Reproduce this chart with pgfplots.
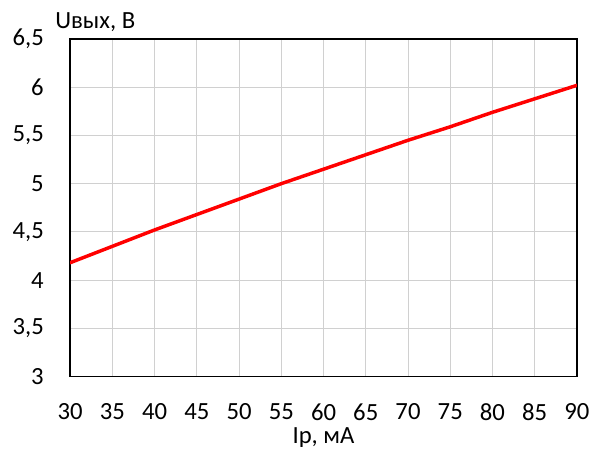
\documentclass[border=0pt]{standalone}
\usepackage{pgfplots}
\pgfplotsset{compat=1.18}
\usepackage{fontspec}
\setmainfont{Carlito}
\definecolor{gridgray}{HTML}{D0D0D0}
\begin{document}
\fontsize{18.5}{22}\selectfont
\begin{tikzpicture}
  \useasboundingbox (-52.5pt,-55.5pt) rectangle (395.75pt,282.25pt);
  \begin{axis}[
    at={(0,0)}, anchor=south west,
    scale only axis,
    width=380pt, height=253pt,
    xmin=30, xmax=90, ymin=3, ymax=6.5,
    xtick={30,35,...,90},
    ytick={3,3.5,...,6.5},
    grid=major,
    major grid style={gridgray, line width=0.75pt},
    axis line style={black, line width=1.1pt},
    major tick length=0pt,
    tick style={draw=none},
    /pgf/number format/assume math mode=true,
    /pgf/number format/use comma,
    ticklabel style={font=\fontsize{18.5}{22}\selectfont, inner sep=0pt},
    yticklabel style={xshift=-19.5pt},
    xticklabel style={yshift=-20.25pt},
    xlabel={Iр, мА},
    ylabel={Uвых, В},
    every axis x label/.style={at={(axis description cs:0.5,0)}, anchor=center, yshift=-45.75pt, font=\fontsize{18.5}{22}\selectfont},
    every axis y label/.style={at={(axis description cs:0,1)}, anchor=west, xshift=-11.25pt, yshift=12.75pt, font=\fontsize{18.5}{22}\selectfont, inner sep=0pt},
  ]
    \addplot[color=red, line width=2.6pt, line cap=round] coordinates {
      (30, 4.18) (35, 4.35) (40, 4.52) (45, 4.68) (50, 4.84)
      (55, 5.00) (60, 5.15) (65, 5.30) (70, 5.45) (75, 5.59)
      (80, 5.74) (85, 5.88) (90, 6.02)
    };
  \end{axis}
\end{tikzpicture}
\end{document}
